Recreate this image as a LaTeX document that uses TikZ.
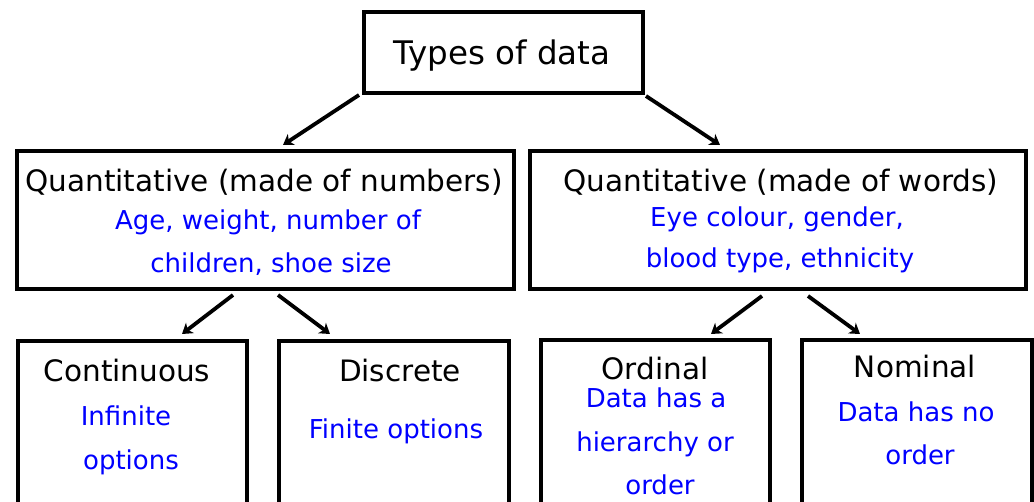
\documentclass[tikz,border=0pt]{standalone}
\usepackage{fontspec}
\setmainfont{DejaVu Sans}
\usetikzlibrary{arrows.meta}
\definecolor{txtblue}{RGB}{0,0,255}
\tikzset{
  box/.style={draw=black, line width=3.5pt, rectangle, inner sep=0pt, outer sep=0pt},
  arr/.style={line width=3.8pt, -{Stealth[length=10pt,width=13pt,inset=3pt]}},
  ttl/.style={anchor=base, font=\fontsize{29.5}{34}\selectfont, inner sep=0pt},
  bigttl/.style={anchor=base, font=\fontsize{32.5}{38}\selectfont, inner sep=0pt},
  desc/.style={anchor=base, font=\fontsize{26}{30}\selectfont, text=txtblue, inner sep=0pt}
}
\begin{document}
\begin{tikzpicture}[x=1pt,y=1pt]
\useasboundingbox (0,0) rectangle (1034,501);
\clip (0,0) rectangle (1034,501);
\fill[white] (0,0) rectangle (1034,501);
% boxes
\node[box, minimum width=279pt, minimum height=81pt] (top) at (503.5,448.5) {};
\node[box, minimum width=497pt, minimum height=138pt] (qn) at (265.5,281) {};
\node[box, minimum width=496pt, minimum height=138pt] (qw) at (778,281) {};
\node[box, minimum width=229pt, minimum height=200pt] (cont) at (132.5,60) {};
\node[box, minimum width=230pt, minimum height=200pt] (disc) at (394,60) {};
\node[box, minimum width=229pt, minimum height=200pt] (ord) at (655.5,61) {};
\node[box, minimum width=230pt, minimum height=200pt] (nom) at (917,61) {};
% texts
\node[bigttl] (ttop) at (502,436) {Types of data};
\node[ttl] (tqn) at (264,309) {Quantitative (made of numbers)};
\node[desc] (dqn1) at (268,271) {Age, weight, number of};
\node[desc] (dqn2) at (271,228) {children, shoe size};
\node[ttl] (tqw) at (781,309) {Quantitative (made of words)};
\node[desc] (dqw1) at (777,274) {Eye colour, gender,};
\node[desc] (dqw2) at (780,233) {blood type, ethnicity};
\node[ttl] (tcont) at (127,119) {Continuous};
\node[desc] (dcont1) at (126,75) {Infinite};
\node[desc] (dcont2) at (131,31) {options};
\node[ttl] (tdisc) at (400,119) {Discrete};
\node[desc] (ddisc) at (396,63) {Finite options};
\node[ttl] (tord) at (655,121) {Ordinal};
\node[desc] (dord1) at (656,93) {Data has a};
\node[desc] (dord2) at (655,49) {hierarchy or};
\node[desc] (dord3) at (660,6) {order};
\node[ttl] (tnom) at (915,123) {Nominal};
\node[desc] (dnom1) at (916,79) {Data has no};
\node[desc] (dnom2) at (920,36) {order};
% arrows
\draw[arr] ([shift={(-5,-2)}]top.south west) -- ([shift={(17.5,6)}]qn.north);
\draw[arr] ([shift={(3,-3)}]top.south east) -- ([shift={(-58,6)}]qw.north);
\draw[arr] ([shift={(-32.5,-6)}]qn.south) -- ([shift={(49.5,7)}]cont.north);
\draw[arr] ([shift={(12.5,-6)}]qn.south) -- ([shift={(-64,7)}]disc.north);
\draw[arr] ([shift={(-16,-7)}]qw.south) -- ([shift={(55.5,6)}]ord.north);
\draw[arr] ([shift={(30,-7)}]qw.south) -- ([shift={(-57,6)}]nom.north);
\end{tikzpicture}
\end{document}
